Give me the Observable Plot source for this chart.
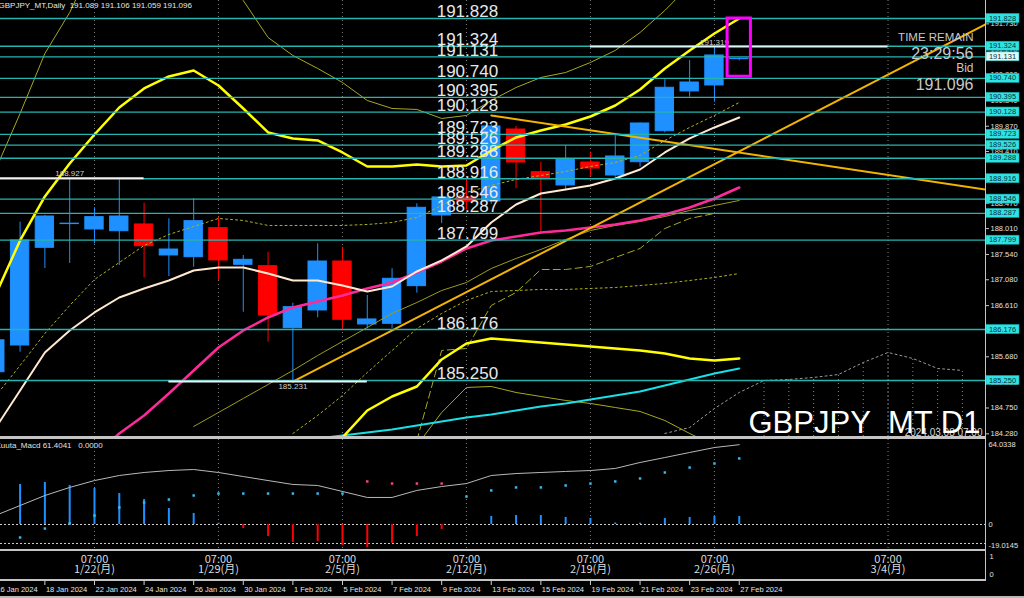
<!DOCTYPE html>
<html><head><meta charset="utf-8">
<script src="https://cdn.jsdelivr.net/npm/d3@7"></script>
<script src="https://cdn.jsdelivr.net/npm/@observablehq/plot@0.6"></script>
<style>
html,body{margin:0;padding:0;background:#000;}
#wrap{position:relative;width:1024px;height:598px;overflow:hidden;background:#000;}
#wrap > div.p{position:absolute;left:0;}
.sep{position:absolute;background:#c4c4c4;}
</style></head><body><div id="wrap"></div>
<script>
// ---------------- DATA ----------------
const barIdx = [-4,-3,-2,-1,0,1,2,3,4,5,6,7,8,9,10,11,12,13,14,15,16,17,18,19,20,21,22,23,24,25,26];
const open  = [185.400,185.886,187.661,188.092,187.994,187.963,188.085,187.522,187.491,188.018,187.352,187.327,186.200,186.522,187.412,186.268,186.280,186.964,188.248,188.576,188.503,189.811,189.035,188.794,189.211,188.975,189.217,189.780,190.502,190.611,191.089];
const high  = [186.050,188.127,188.250,188.927,188.388,188.900,188.472,188.188,188.552,188.218,187.521,187.581,186.655,187.734,187.672,186.795,187.280,188.461,188.620,188.900,189.900,189.866,189.217,189.520,189.399,189.733,189.930,190.714,191.065,191.319,191.106];
const low   = [185.300,185.764,187.285,187.376,187.734,187.340,187.116,187.140,187.309,187.067,186.491,185.946,185.231,186.389,186.159,186.190,186.190,186.836,188.100,188.350,188.450,188.733,187.945,188.703,188.944,188.944,189.126,189.750,190.398,190.307,191.059];
const close = [185.980,187.794,188.230,188.100,188.218,188.230,187.690,187.630,188.145,187.431,187.443,186.431,186.582,187.412,186.353,186.359,187.098,188.388,188.576,188.500,189.866,189.211,188.915,189.266,189.102,189.321,189.920,190.569,190.665,191.156,191.096];

// indicator lines (first value belongs to the bar index in the matching start constant)
const bbUpStart = -4;
const bbUp   = [186.795,187.794,188.594,189.193,189.720,190.211,190.556,190.774,190.883,190.611,190.193,189.757,189.648,189.611,189.393,189.139,189.139,189.175,189.139,189.157,189.430,189.666,189.793,189.902,190.047,190.247,190.538,190.920,191.247,191.556,191.828];
const bbLoStart = 9;
const bbLo   = [183.615,184.214,184.705,184.959,185.141,185.632,185.922,186.013,185.977,185.941,185.904,185.868,185.832,185.795,185.741,185.650,185.613,185.650];
const bb3UpStart = -4;
const bb3Up  = [189.066,190.102,191.192,191.937,192.882,193.609,193.973,193.973,193.791,193.246,192.155,191.483,191.156,190.920,190.665,190.338,190.193,190.175,190.011,190.066,190.338,190.574,190.756,190.847,191.029,191.247,191.574,191.974,192.428,192.882,193.246];
const bb3LoStart = 12;
const bb3Lo  = [183.433,184.069,184.668,185.123,185.141,185.032,184.959,184.887,184.832,184.759,184.687,184.523,184.287,184.069,183.887];
const oliveStart = 4;
const olive  = [184.414,184.668,184.923,185.177,185.432,185.704,185.959,186.213,186.468,186.667,186.885,187.031,187.285,187.467,187.631,187.812,187.976,188.067,188.139,188.230,188.339,188.430,188.521];
const dashStart = 13;
const dashLine = [184.160,185.795,185.832,186.613,186.849,187.267,187.267,187.322,187.485,187.649,188.012,188.194,188.285,188.285];
const envLoStart = 8;
const envLo  = [184.287,184.614,184.977,185.395,185.795,186.195,186.468,186.704,186.867,186.885,186.904,186.904,186.922,186.940,186.976,187.013,187.067,187.122,187.194];
const envUpStart = -4;
const envUp  = [184.959,185.523,186.104,186.613,187.085,187.394,187.703,187.903,188.048,188.194,188.158,188.067,188.067,188.067,188.067,188.085,188.121,188.212,188.430,188.666,188.794,188.903,188.975,189.048,189.139,189.211,189.339,189.611,189.848,190.066,190.302];
const creamStart = -4;
const cream  = [184.378,185.068,185.759,186.159,186.486,186.758,186.922,187.067,187.249,187.303,187.303,187.194,187.067,187.067,186.976,186.867,186.958,187.231,187.431,187.685,188.121,188.448,188.648,188.721,188.794,188.921,189.084,189.393,189.648,189.848,190.029];
const pinkStart = 0;
const pinkMA = [183.887,184.287,184.614,185.014,185.432,185.850,186.159,186.395,186.577,186.686,186.795,186.922,187.031,187.213,187.412,187.649,187.794,187.867,187.939,187.976,188.030,188.085,188.158,188.267,188.394,188.557,188.757];
const cyanStart = 9;
const cyanMA = [184.196,184.251,184.305,184.360,184.432,184.505,184.578,184.632,184.705,184.778,184.832,184.905,184.977,185.050,185.159,185.268,185.377,185.468];
const cloudStart = 23;
const cloud  = [184.287,184.396,184.741,185.032,185.250,185.268,185.305,185.359,185.577,185.759,185.650,185.468,185.432];
const cloudHatchIdx = [27,28,29,30,31,32,33,34,35];

const trendUpIdx = [8, 36];
const trendUpVal = [185.231, 191.736];
const trendDnIdx = [16, 36];
const trendDnVal = [190.066, 188.715];

const levels = [191.828,191.324,191.131,190.740,190.395,190.128,189.723,189.526,189.288,188.916,188.546,188.287,187.799,186.176,185.250];
const axisTicks = [191.730,191.270,190.800,190.340,189.870,189.410,188.940,188.470,188.010,187.540,187.080,186.610,186.150,185.680,185.220,184.750,184.280];

const markIdx  = [-1, 8, 25];
const markVal  = [188.927, 185.231, 191.319];
const markFrom = [-4, 3, 20];
const markTo   = [2, 11, 32];

const focusLo = 190.77, focusHi = 191.828;

const weekIdx = [0, 5, 10, 15, 20, 25, 32];
const weekLabels = ["1/22(月)","1/29(月)","2/5(月)","2/12(月)","2/19(月)","2/26(月)","3/4(月)"];
const dateTickIdx = [-4,-2,0,2,4,6,8,10,12,14,16,18,20,22,24,26];
const dateLabels = ["16 Jan 2024","18 Jan 2024","22 Jan 2024","24 Jan 2024","26 Jan 2024","30 Jan 2024","1 Feb 2024","5 Feb 2024","7 Feb 2024","9 Feb 2024","13 Feb 2024","15 Feb 2024","19 Feb 2024","21 Feb 2024","23 Feb 2024","27 Feb 2024"];

// MACD sub-window
const histStart = -3;
const macdHist = [30.8,32.3,30.0,27.7,23.8,19.2,12.3,8.5,1.0,-3.1,-9.2,-13.8,-13.1,-16.2,-17.7,-14.6,-9.2,-3.8,0.3,6.2,6.9,6.9,5.4,4.6,1.2,1.0,4.6,5.4,6.2,6.2];
const dotStart = -3;
const macdDots = [-10.0,-3.1,0.8,6.9,13.1,16.9,19.2,22.3,23.8,23.8,23.8,23.8,23.8,23.8,33.1,31.5,31.5,31.5,21.5,26.2,28.5,28.5,30.0,31.5,33.1,35.4,40.0,43.8,46.9,50.8];
const pinkDotIdx = [11,12,13,14];
const sigStart = -4;
const macdSignal = [6.9,14.6,22.3,28.5,33.8,37.7,40.0,41.5,42.3,40.0,36.9,33.8,30.8,30.0,25.4,20.8,20.8,26.2,29.2,31.5,37.7,39.2,40.0,40.8,41.5,43.1,47.7,51.5,55.4,59.2,61.4];
const macdLevels = [0, -14.6];

// ---------------- BUILD ----------------
const FONT = "'Liberation Sans', Arial, sans-serif";
const X_DOMAIN = [-3.79, 35.93];
const Y_DOMAIN = [184.232, 192.155];
const BLUE = "#1e90ff", RED = "#ff0000";
const STYLE = `background:transparent;color:#e0e0e0;font-family:${FONT};font-size:8px;overflow:visible;`;
const series = (start, vals) => vals.map((v, k) => ({i: start + k, v}));

const candles = barIdx.map((i, k) => ({i, o: open[k], h: high[k], l: low[k], c: close[k]}));
const upC = candles.filter(d => d.c >= d.o), dnC = candles.filter(d => d.c < d.o);
const marks = markIdx.map((i, k) => ({i, v: markVal[k], from: markFrom[k], to: markTo[k]}));
const lineOpts = (stroke, w, extra = {}) => ({x: "i", y: "v", stroke, strokeWidth: w, clip: true, ...extra});

const wrap = document.getElementById("wrap");
function place(node, top) {
  const d = document.createElement("div"); d.className = "p"; d.style.top = top + "px";
  d.appendChild(node); wrap.appendChild(d);
}
function sep(x, y, w, h, c) {
  const d = document.createElement("div"); d.className = "sep";
  Object.assign(d.style, {left: x + "px", top: y + "px", width: w + "px", height: h + "px"});
  if (c) d.style.background = c;
  wrap.appendChild(d);
}

const main = Plot.plot({
  width: 1024, height: 436, marginLeft: 0, marginRight: 39, marginTop: 0, marginBottom: 0,
  style: STYLE,
  x: {domain: X_DOMAIN, axis: null},
  y: {domain: Y_DOMAIN, axis: null},
  marks: [
    Plot.ruleX(weekIdx, {stroke: "#808080", strokeDasharray: "1,3"}),
    Plot.ruleX(series(cloudStart, cloud).filter(d => cloudHatchIdx.includes(d.i)), {x: "i", y1: Y_DOMAIN[0], y2: "v", stroke: "#8a8a8a", strokeDasharray: "1,3"}),
    Plot.line(series(cloudStart, cloud), lineOpts("#9a9a9a", 1, {strokeDasharray: "2,3"})),
    // candles
    Plot.ruleX(upC, {x: "i", y1: "l", y2: "h", stroke: BLUE}),
    Plot.ruleX(dnC, {x: "i", y1: "l", y2: "h", stroke: RED}),
    Plot.rect(upC, {x1: d => d.i - 0.37, x2: d => d.i + 0.37, y1: "o", y2: "c", fill: BLUE, stroke: BLUE, strokeWidth: 1}),
    Plot.rect(dnC, {x1: d => d.i - 0.37, x2: d => d.i + 0.37, y1: "o", y2: "c", fill: RED, stroke: RED, strokeWidth: 1}),
    // indicators
    Plot.line(series(bb3UpStart, bb3Up), lineOpts("#a8a820", 1)),
    Plot.line(series(bb3LoStart, bb3Lo), lineOpts("#a8a820", 1)),
    Plot.line(series(oliveStart, olive), lineOpts("#9c9c1c", 1)),
    Plot.line(series(dashStart, dashLine), lineOpts("#a8a820", 1, {strokeDasharray: "7,4"})),
    Plot.line(series(envLoStart, envLo), lineOpts("#b0b020", 1, {strokeDasharray: "2,3"})),
    Plot.line(series(envUpStart, envUp), lineOpts("#b0b020", 1, {strokeDasharray: "2,3"})),
    Plot.line(series(cyanStart, cyanMA), lineOpts("#18e0e6", 2)),
    Plot.line(series(pinkStart, pinkMA), lineOpts("#ff2a9a", 2.5)),
    Plot.line(series(creamStart, cream), lineOpts("#ffe9d0", 2)),
    Plot.line(series(bbLoStart, bbLo), lineOpts("#ffff00", 2.5)),
    Plot.line(series(bbUpStart, bbUp), lineOpts("#ffff00", 2.5)),
    Plot.line(trendUpIdx.map((i, k) => ({i, v: trendUpVal[k]})), lineOpts("#f2b400", 2)),
    Plot.line(trendDnIdx.map((i, k) => ({i, v: trendDnVal[k]})), lineOpts("#f2b400", 2)),
    // horizontal levels
    Plot.ruleY(levels, {stroke: "#26b5ae", strokeWidth: 1.3}),
    // high/low markers
    Plot.ruleY(marks, {y: "v", x1: "from", x2: "to", stroke: d => d.i === 25 ? "#d8f8f8" : "#f2f2f2", strokeWidth: 2, clip: true}),
    Plot.text(marks.filter(d => d.i !== 8), {x: "i", y: "v", text: d => d.v.toFixed(3), lineAnchor: "bottom", dy: -2, fontSize: 8, fill: "#cfcfcf"}),
    Plot.text(marks.filter(d => d.i === 8), {x: "i", y: "v", text: d => d.v.toFixed(3), lineAnchor: "top", dy: 2, fontSize: 8, fill: "#cfcfcf"}),
    // focus box
    Plot.rect([{a: barIdx[barIdx.length - 1]}], {x1: d => d.a - 0.47, x2: d => d.a + 0.47, y1: () => focusLo, y2: () => focusHi, fill: "none", stroke: "#ff00ff", strokeWidth: 3}),
    // level labels
    Plot.text(levels, {x: () => 13.8, y: d => d, text: d => d.toFixed(3), textAnchor: "start", lineAnchor: "bottom", dy: -1, fontSize: 17, fill: "#e8e8e8"}),
    // right price axis
    Plot.axisY(axisTicks, {anchor: "right", tickSize: 3, tickPadding: 2, tickFormat: d => d.toFixed(3), fontSize: 7.5, stroke: "#c8c8c8", fill: "#e0e0e0", label: null}),
    // texts
    Plot.text(["GBPJPY_MT,Daily  191.089 191.106 191.059 191.096"], {frameAnchor: "top-left", textAnchor: "start", lineAnchor: "top", dx: -2, dy: 2, fontSize: 8, fill: "#e6e6e6"}),
    Plot.text(["TIME REMAIN"], {frameAnchor: "top-right", textAnchor: "end", lineAnchor: "middle", dx: -12, dy: 37, fontSize: 11.5, fill: "#c8c8c8"}),
    Plot.text(["23:29:56"], {frameAnchor: "top-right", textAnchor: "end", lineAnchor: "middle", dx: -12, dy: 53, fontSize: 16, fill: "#c8c8c8"}),
    Plot.text(["Bid"], {frameAnchor: "top-right", textAnchor: "end", lineAnchor: "middle", dx: -12, dy: 68, fontSize: 12, fill: "#c8c8c8"}),
    Plot.text(["191.096"], {frameAnchor: "top-right", textAnchor: "end", lineAnchor: "middle", dx: -12, dy: 84, fontSize: 16, fill: "#c8c8c8"}),
    Plot.text(["2024.03.08 07:00"], {frameAnchor: "bottom-right", textAnchor: "end", lineAnchor: "bottom", dx: -3, dy: -1, fontSize: 10, fill: "#d8d8d8"}),
    Plot.text(["GBPJPY_MT D1"], {frameAnchor: "bottom-right", textAnchor: "end", lineAnchor: "bottom", dx: -5, dy: -4, fontSize: 31, fill: "#ffffff"})
  ]
});
// price label boxes on the right axis, positioned with the plot's own y scale
{
  const ys = main.scale("y");
  const g = d3.select(main).append("g").attr("font-family", FONT).attr("font-size", 7.5);
  levels.forEach(v => {
    const y = ys.apply(v);
    const light = v === 191.131;
    g.append("rect").attr("x", 986).attr("y", y - 4.5).attr("width", 33).attr("height", 9)
      .attr("fill", light ? "#dffcfc" : "#2fe3e3").attr("stroke", "#1aa5a5").attr("stroke-width", 0.6);
    g.append("text").attr("x", 1002.5).attr("y", y).attr("dy", "0.35em").attr("text-anchor", "middle")
      .attr("fill", "#08303a").text(v.toFixed(3));
  });
}
place(main, 0);

const macdDotsData = series(dotStart, macdDots);
const macd = Plot.plot({
  width: 1024, height: 110, marginLeft: 0, marginRight: 39, marginTop: 0, marginBottom: 0,
  style: STYLE,
  x: {domain: X_DOMAIN, axis: null},
  y: {domain: [-19.23, 65.38], axis: null},
  marks: [
    Plot.ruleX(weekIdx, {stroke: "#808080", strokeDasharray: "1,3"}),
    Plot.ruleY(macdLevels, {stroke: "#d0d0d0", strokeDasharray: "2,2"}),
    Plot.ruleX(series(histStart, macdHist).filter(d => d.v >= 0), {x: "i", y1: 0, y2: "v", stroke: BLUE, strokeWidth: 2}),
    Plot.ruleX(series(histStart, macdHist).filter(d => d.v < 0), {x: "i", y1: 0, y2: "v", stroke: RED, strokeWidth: 2}),
    Plot.line(series(sigStart, macdSignal), lineOpts("#b8b8b8", 1)),
    Plot.dot(macdDotsData.filter(d => !pinkDotIdx.includes(d.i)), {x: "i", y: "v", r: 1.4, symbol: "square", fill: "#39b8f0"}),
    Plot.dot(macdDotsData.filter(d => pinkDotIdx.includes(d.i)), {x: "i", y: "v", r: 1.4, symbol: "square", fill: "#f0448e"}),
    Plot.text(["Kuuta_Macd 61.4041   0.0000"], {frameAnchor: "top-left", textAnchor: "start", lineAnchor: "top", dx: -5, dy: 3, fontSize: 8, fill: "#e0e0e0"}),
    Plot.text(["64.0338"], {frameAnchor: "top-right", textAnchor: "start", lineAnchor: "middle", dx: 3, dy: 5, fontSize: 7.5, fill: "#e0e0e0"}),
    Plot.text(["0"], {y: () => 0, frameAnchor: "right", textAnchor: "start", lineAnchor: "middle", dx: 3, fontSize: 7.5, fill: "#e0e0e0"}),
    Plot.text(["-19.0145"], {frameAnchor: "bottom-right", textAnchor: "start", lineAnchor: "middle", dx: 3, dy: -4, fontSize: 7.5, fill: "#e0e0e0"})
  ]
});
place(macd, 439);

const sub = Plot.plot({
  width: 1024, height: 28, marginLeft: 0, marginRight: 39, marginTop: 0, marginBottom: 0,
  style: STYLE,
  x: {domain: X_DOMAIN, axis: null},
  marks: [
    Plot.text(weekIdx, {x: d => d, text: (d, k) => "07:00\n" + weekLabels[k], frameAnchor: "middle", lineAnchor: "middle", lineHeight: 0.95, dy: -1, fontSize: 11, fontFamily: "'Noto Sans CJK JP', sans-serif", fill: "#dcdcdc"}),
    Plot.text(["1"], {frameAnchor: "top-right", textAnchor: "start", lineAnchor: "middle", dx: 4, dy: 5, fontSize: 7.5, fill: "#e0e0e0"}),
    Plot.text(["0"], {frameAnchor: "bottom-right", textAnchor: "start", lineAnchor: "middle", dx: 4, dy: -5, fontSize: 7.5, fill: "#e0e0e0"})
  ]
});
place(sub, 551);

const dates = Plot.plot({
  width: 1024, height: 15, marginLeft: 0, marginRight: 39, marginTop: 0, marginBottom: 0,
  style: STYLE,
  x: {domain: X_DOMAIN, axis: null},
  marks: [
    Plot.ruleX(dateTickIdx, {stroke: "#d0d0d0", insetBottom: 11}),
    Plot.text(dateTickIdx, {x: d => d, text: (d, k) => dateLabels[k], frameAnchor: "middle", textAnchor: "start", lineAnchor: "middle", dx: 1, dy: 1, fontSize: 7.5, fill: "#e6e6e6"})
  ]
});
place(dates, 581);

// frame lines
sep(0, 436, 985, 3);
sep(0, 549, 985, 2);
sep(0, 579, 985, 2);
sep(985, 0, 1, 581);
sep(0, 596, 1024, 2, "#b8b8b8");
</script></body></html>
